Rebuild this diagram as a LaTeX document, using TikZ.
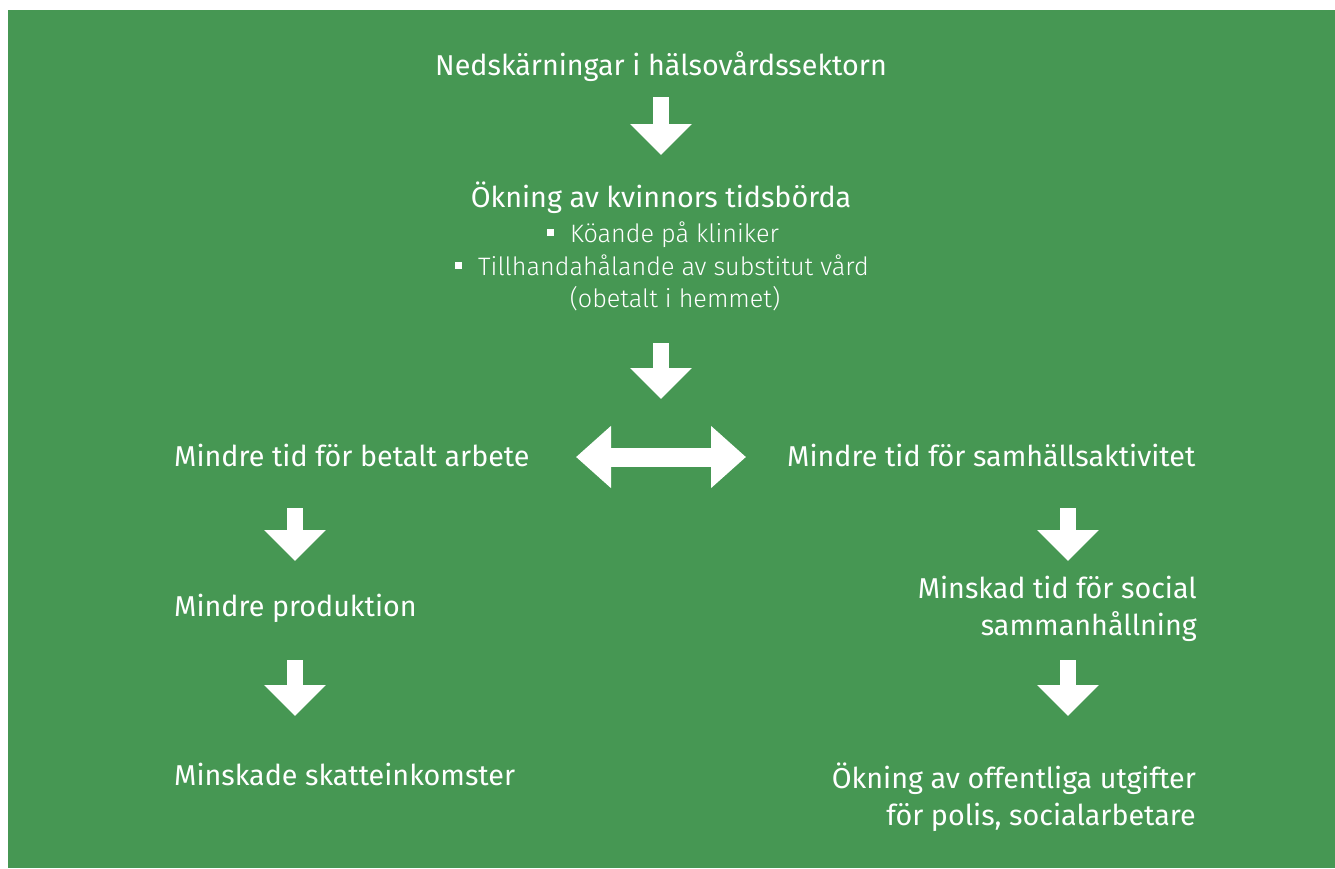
\documentclass[tikz,border=0pt]{standalone}
\usepackage{fontspec}
\setmainfont{Fira Sans}
\newfontfamily\lightfont{Fira Sans Light}
\usetikzlibrary{arrows.meta}
\definecolor{bggreen}{RGB}{70,151,83}
\tikzset{
    txt/.style={text=white, inner sep=0pt, font=\fontsize{28.7}{37}\selectfont},
    subtxt/.style={text=white, inner sep=0pt, font=\lightfont\fontsize{25.2}{32}\selectfont},
    flow/.style={draw=white, line width=16pt, -{Triangle[width=60pt, length=31pt]}},
    twoway/.style={draw=white, line width=19pt, {Triangle[width=60pt, length=35pt]}-{Triangle[width=60pt, length=35pt]}}
}
\newcommand{\bsq}{\rule[6pt]{7pt}{7pt}\hspace{16pt}}

\begin{document}
\begin{tikzpicture}[x=1pt, y=-1pt]
        \useasboundingbox (0, 0) rectangle (1335, 868);
        \fill[bggreen] (8, 10) rectangle (1335, 868);

        % top of the chain
        \node[txt, anchor=base] (cuts) at (661, 75) {Nedskärningar i hälsovårdssektorn};
        \node[txt, anchor=base] (burden) at (661, 207) {Ökning av kvinnors tidsbörda};
        \node[subtxt, anchor=base] (queue) at (663, 242) {\bsq Köande på kliniker};
        \node[subtxt, anchor=base] (care) at (662, 275) {\bsq Tillhandahålande av substitut vård};
        \node[subtxt, anchor=base] (unpaid) at (675, 307) {(obetalt i hemmet)};

        % two branches
        \node[txt, anchor=base west] (work) at (174, 466) {Mindre tid för betalt arbete};
        \node[txt, anchor=base west] (society) at (787, 466) {Mindre tid för samhällsaktivitet};
        \node[txt, anchor=base west] (prod) at (174, 616) {Mindre produktion};
        \node[txt, anchor=base west] (tax) at (174, 785) {Minskade skatteinkomster};
        \node[txt, anchor=north east, align=right] (social) at (1197, 576) {Minskad tid för social\\sammanhållning};
        \node[txt, anchor=north east, align=right] (public) at (1196, 763) {Ökning av offentliga utgifter\\för polis, socialarbetare};

        % block arrows
        \coordinate (a1s) at (661, 97);  \coordinate (a1e) at (661, 155);
        \coordinate (a2s) at (661, 343); \coordinate (a2e) at (661, 399);
        \coordinate (a3s) at (295, 508); \coordinate (a3e) at (295, 561);
        \coordinate (a4s) at (295, 660); \coordinate (a4e) at (295, 716);
        \coordinate (a5s) at (1068, 508); \coordinate (a5e) at (1068, 561);
        \coordinate (a6s) at (1068, 660); \coordinate (a6e) at (1068, 716);
        \coordinate (dl) at (576, 457);  \coordinate (dr) at (746, 457);

        \draw[flow] (a1s) -- (a1e);
        \draw[flow] (a2s) -- (a2e);
        \draw[flow] (a3s) -- (a3e);
        \draw[flow] (a4s) -- (a4e);
        \draw[flow] (a5s) -- (a5e);
        \draw[flow] (a6s) -- (a6e);
        \draw[twoway] (dl) -- (dr);
    \end{tikzpicture}
\end{document}
